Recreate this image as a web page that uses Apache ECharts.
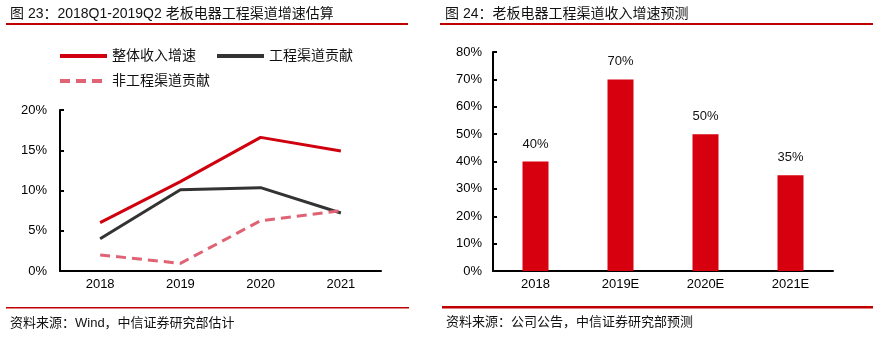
<!DOCTYPE html>
<html>
<head>
<meta charset="utf-8">
<script src="https://cdn.jsdelivr.net/npm/echarts@6/dist/echarts.min.js"></script>
<style>
  html, body { margin: 0; padding: 0; background: #fff; }
  #chart { width: 877px; height: 354px; }
</style>
</head>
<body>
<div id="chart"></div>
<script>
// 左图：2018Q1-2019Q2 老板电器工程渠道增速估算
const years = ['2018', '2019', '2020', '2021'];
const totalGrowth = [6.0, 11.1, 16.6, 14.9];      // 整体收入增速
const projectContrib = [4.0, 10.1, 10.35, 7.2];   // 工程渠道贡献
const nonProjectContrib = [2.0, 0.95, 6.25, 7.5]; // 非工程渠道贡献

// 右图：工程渠道收入增速预测
const forecastYears = ['2018', '2019E', '2020E', '2021E'];
const projectGrowth = [40, 70, 50, 35];

const FONT = '"Liberation Sans", Arial, "Noto Sans CJK SC", sans-serif';
const RED = '#D7000F';

const chart = echarts.init(document.getElementById('chart'));

const axisLine = { show: true, lineStyle: { color: '#000', width: 2 } };
const axisLabel = { color: '#000', fontSize: 13, fontFamily: FONT };
const textStyle = { fontSize: 14, fontWeight: 'normal', color: '#111', fontFamily: FONT };
const noteStyle = { fontSize: 13, fontWeight: 'normal', color: '#111', fontFamily: FONT };

const option = {
  animation: false,
  textStyle: { fontFamily: FONT },
  title: [
    { text: '图 23：2018Q1-2019Q2 老板电器工程渠道增速估算', left: 10, top: 7, padding: 0, textStyle: textStyle },
    { text: '图 24：老板电器工程渠道收入增速预测', left: 445, top: 7, padding: 0, textStyle: textStyle },
    { text: '资料来源：Wind，中信证券研究部估计', left: 10, top: 317, padding: 0, textStyle: noteStyle },
    { text: '资料来源：公司公告，中信证券研究部预测', left: 446, top: 316, padding: 0, textStyle: noteStyle }
  ],
  graphic: [
    { type: 'rect', shape: { x: 6, y: 23, width: 402, height: 2 }, style: { fill: '#C00000' } },
    { type: 'rect', shape: { x: 440, y: 23, width: 433, height: 2 }, style: { fill: '#C00000' } },
    { type: 'rect', shape: { x: 6, y: 307, width: 403, height: 1.5 }, style: { fill: '#C00000' } },
    { type: 'rect', shape: { x: 442, y: 306, width: 431, height: 2.5 }, style: { fill: '#C00000' } }
  ],
  legend: [
    {
      data: ['整体收入增速', '工程渠道贡献'],
      left: 58, top: 49, padding: 0,
      itemWidth: 47, itemHeight: 12, itemGap: 19,
      itemStyle: { opacity: 0 },
      lineStyle: { width: 4 },
      textStyle: textStyle
    },
    {
      data: ['非工程渠道贡献'],
      left: 58, top: 74, padding: 0,
      itemWidth: 47, itemHeight: 12,
      itemStyle: { opacity: 0 },
      lineStyle: { width: 4 },
      textStyle: textStyle
    }
  ],
  grid: [
    { left: 60, top: 110, width: 321, height: 161 },
    { left: 493, top: 52, width: 340, height: 219 }
  ],
  xAxis: [
    {
      type: 'category', gridIndex: 0, data: years, boundaryGap: true,
      axisLine: axisLine, axisTick: { show: false },
      axisLabel: Object.assign({ margin: 7 }, axisLabel)
    },
    {
      type: 'category', gridIndex: 1, data: forecastYears, boundaryGap: true,
      axisLine: axisLine, axisTick: { show: false },
      axisLabel: Object.assign({ margin: 7 }, axisLabel)
    }
  ],
  yAxis: [
    {
      type: 'value', gridIndex: 0, min: 0, max: 20, interval: 5,
      axisLine: axisLine,
      axisTick: { show: true, inside: true, length: 4, lineStyle: { color: '#000', width: 2 } },
      splitLine: { show: false },
      axisLabel: Object.assign({ margin: 13, formatter: '{value}%' }, axisLabel)
    },
    {
      type: 'value', gridIndex: 1, min: 0, max: 80, interval: 10,
      axisLine: axisLine,
      axisTick: { show: true, inside: true, length: 4, lineStyle: { color: '#000', width: 2 } },
      splitLine: { show: false },
      axisLabel: Object.assign({ margin: 11, formatter: '{value}%' }, axisLabel)
    }
  ],
  series: [
    {
      name: '整体收入增速', type: 'line', xAxisIndex: 0, yAxisIndex: 0,
      data: totalGrowth, symbol: 'none',
      lineStyle: { color: '#D0000E', width: 3 }, itemStyle: { color: '#D0000E' }
    },
    {
      name: '工程渠道贡献', type: 'line', xAxisIndex: 0, yAxisIndex: 0,
      data: projectContrib, symbol: 'none',
      lineStyle: { color: '#333', width: 3 }, itemStyle: { color: '#333' }
    },
    {
      name: '非工程渠道贡献', type: 'line', xAxisIndex: 0, yAxisIndex: 0,
      data: nonProjectContrib, symbol: 'none',
      lineStyle: { color: '#E06375', width: 3, type: [10, 6] }, itemStyle: { color: '#E06375' }
    },
    {
      name: '工程渠道收入增速', type: 'bar', xAxisIndex: 1, yAxisIndex: 1,
      data: projectGrowth, barWidth: 26,
      itemStyle: { color: RED },
      label: {
        show: true, position: 'top', distance: 11,
        formatter: '{c}%', color: '#111', fontSize: 13, fontFamily: FONT
      }
    }
  ]
};

chart.setOption(option);
</script>
</body>
</html>
